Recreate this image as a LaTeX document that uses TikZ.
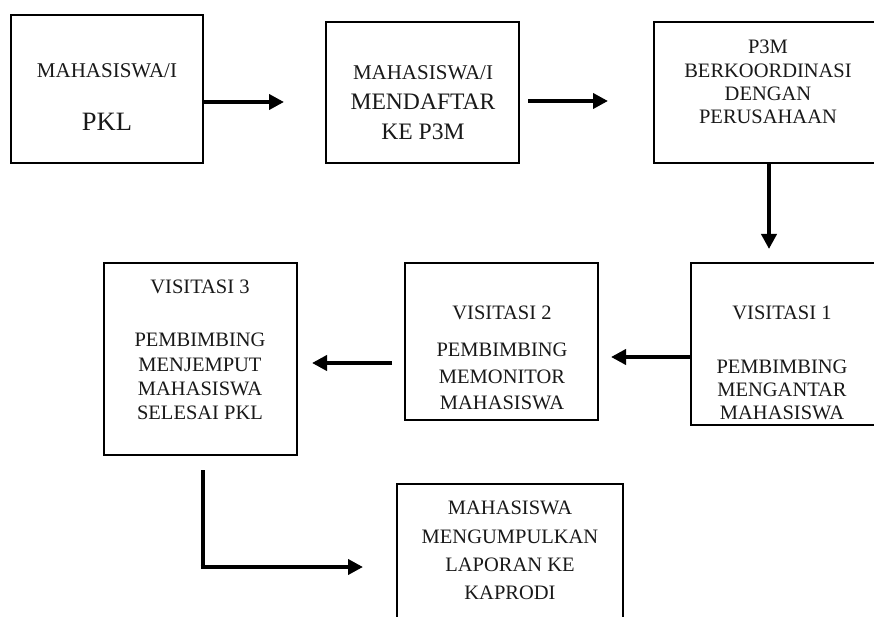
\documentclass[tikz,border=0pt]{standalone}
\usepackage{fontspec}
\setmainfont{Liberation Serif}
\usetikzlibrary{arrows.meta}
\begin{document}
\begin{tikzpicture}[x=1pt,y=-1pt,
  box/.style={draw=black,line width=1.8pt,rectangle,inner sep=0pt},
  txt/.style={align=center,inner sep=0pt,text=black!90},
  arr/.style={line width=4.6pt,-{Triangle[length=15pt,width=15pt]}}]
\fill[white] (0,0) rectangle (874,617);
\useasboundingbox (0,0) rectangle (874,617);
\clip (0,0) rectangle (874,617);
% boxes
\node[box,minimum width=192pt,minimum height=148pt] (b1) at (107,89) {};
\node[box,minimum width=193pt,minimum height=141pt] (b2) at (422.5,92.5) {};
\node[box,minimum width=228pt,minimum height=141pt] (b3) at (768,92.5) {};
\node[box,minimum width=190pt,minimum height=162pt] (b4) at (786,344) {};
\node[box,minimum width=193pt,minimum height=157pt] (b5) at (501.5,341.5) {};
\node[box,minimum width=193pt,minimum height=192pt] (b6) at (200.5,359) {};
\node[box,minimum width=226pt,minimum height=156pt] (b7) at (510,562) {};
% texts
\node[txt,font={\fontsize{21}{25}\selectfont}] (t1a) at (107,71) {MAHASISWA/I};
\node[txt,font={\fontsize{26.5}{30}\selectfont}] (t1b) at (107,122) {PKL};
\node[txt,font={\fontsize{23.6}{30}\selectfont}] (t2) at (423,103)
  {{\fontsize{21}{30}\selectfont MAHASISWA/I}\\MENDAFTAR\\KE P3M};
\node[txt,font={\fontsize{20.5}{23.3}\selectfont}] (t3) at (768,82)
  {P3M\\BERKOORDINASI\\DENGAN\\PERUSAHAAN};
\node[txt,font={\fontsize{20.5}{23}\selectfont}] (t4) at (782,363)
  {VISITASI 1\\[31pt]PEMBIMBING\\MENGANTAR\\MAHASISWA};
\node[txt,font={\fontsize{20.5}{26.5}\selectfont}] (t5) at (502,358)
  {VISITASI 2\\[10.5pt]PEMBIMBING\\MEMONITOR\\MAHASISWA};
\node[txt,font={\fontsize{20.5}{24.3}\selectfont}] (t6) at (200,350)
  {VISITASI 3\\[28.7pt]PEMBIMBING\\MENJEMPUT\\MAHASISWA\\SELESAI PKL};
\node[txt,font={\fontsize{20.5}{28.3}\selectfont}] (t7) at (510,550.5)
  {MAHASISWA\\MENGUMPULKAN\\LAPORAN KE\\KAPRODI};
% connectors
\coordinate (e1) at (284,102);
\coordinate (s2) at (528,101);
\coordinate (e2) at (608,101);
\coordinate (e3) at (769,249);
\coordinate (e4) at (611,357);
\coordinate (s5) at (392,363);
\coordinate (e5) at (312,363);
\coordinate (s6) at (203,470);
\coordinate (c6) at (203,567);
\coordinate (e6) at (363,567);
\draw[arr] (b1.east |- e1) -- (e1);
\draw[arr] (s2) -- (e2);
\draw[arr] (b3.south -| e3) -- (e3);
\draw[arr] (b4.west |- e4) -- (e4);
\draw[arr] (s5) -- (e5);
\draw[line width=4.6pt] (s6) -- ([yshift=-2.3pt]c6);
\draw[arr] ([xshift=-2.3pt]c6) -- (e6);
\end{tikzpicture}
\end{document}
